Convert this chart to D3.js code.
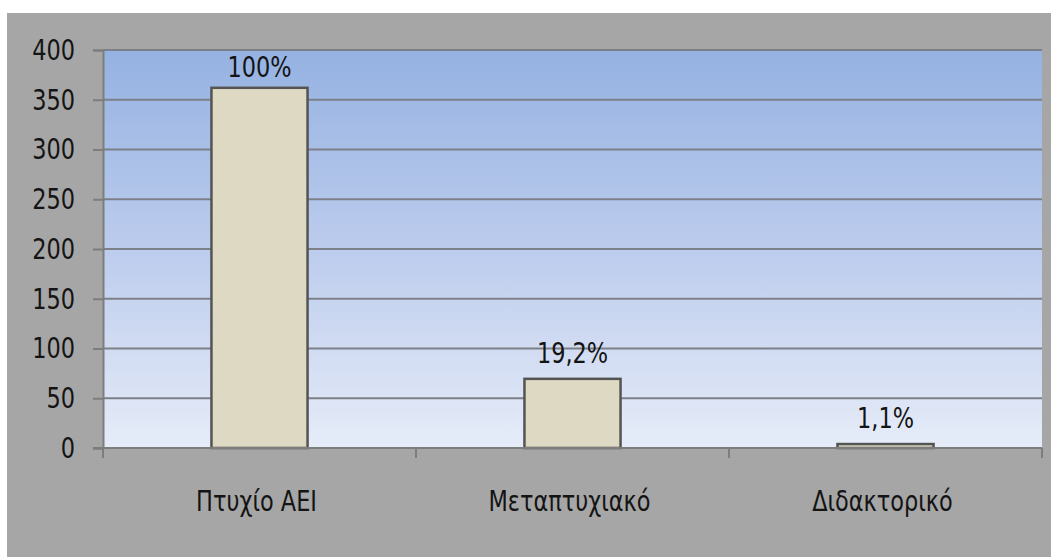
<!DOCTYPE html>
<html>
<head>
<meta charset="utf-8">
<script src="https://cdn.jsdelivr.net/npm/d3@7"></script>
<style>
  html, body { margin: 0; padding: 0; background: #ffffff; }
  svg { display: block; }
  text { font-family: "DejaVu Sans Condensed", "Liberation Sans", sans-serif; fill: #141414; }
</style>
</head>
<body>
<svg id="chart" width="1051" height="558"></svg>
<script>
// Degree level categories and their share relative to the first level
const categories = ["Πτυχίο ΑΕΙ", "Μεταπτυχιακό", "Διδακτορικό"];
const percents = [100, 19.2, 1.1];
const percentLabels = ["100%", "19,2%", "1,1%"];
const baseCount = 362;           // count that corresponds to 100%
const yTicks = [0, 50, 100, 150, 200, 250, 300, 350, 400];

const svg = d3.select("#chart");
const W = 1051, H = 558;
const plot = { left: 103, right: 1042, top: 50, bottom: 448 };
const FONT = 29;
const SX = 0.86;                 // narrow the glyphs horizontally

// Outer chart area
svg.append("rect")
  .attr("x", 7).attr("y", 13)
  .attr("width", W - 7).attr("height", H - 14)
  .attr("fill", "#a6a6a6");

// Plot area gradient
const defs = svg.append("defs");
const grad = defs.append("linearGradient")
  .attr("id", "plotBg").attr("x1", 0).attr("y1", 0).attr("x2", 0).attr("y2", 1);
grad.append("stop").attr("offset", "0%").attr("stop-color", "#95b2e2");
grad.append("stop").attr("offset", "50%").attr("stop-color", "#bccced");
grad.append("stop").attr("offset", "100%").attr("stop-color", "#e6ecf8");

svg.append("rect")
  .attr("x", plot.left).attr("y", plot.top)
  .attr("width", plot.right - plot.left).attr("height", plot.bottom - plot.top)
  .attr("fill", "url(#plotBg)");

const x = d3.scaleBand()
  .domain(categories)
  .range([plot.left, plot.right])
  .paddingInner(0.693)
  .paddingOuter(0.3465);

const y = d3.scaleLinear()
  .domain([0, 400])
  .range([plot.bottom, plot.top]);

// Horizontal gridlines
svg.append("g")
  .selectAll("line")
  .data(yTicks.filter(d => d > 0))
  .join("line")
  .attr("x1", plot.left).attr("x2", plot.right)
  .attr("y1", d => y(d)).attr("y2", d => y(d))
  .attr("stroke", "#7d8088").attr("stroke-width", 2);

// Y axis
const yAxis = svg.append("g")
  .attr("transform", `translate(${plot.left},0)`)
  .call(d3.axisLeft(y).tickValues(yTicks).tickSize(10).tickPadding(18).tickFormat(d3.format("d")));
yAxis.select(".domain").attr("stroke", "#7d7d7d").attr("stroke-width", 2);
yAxis.selectAll(".tick line").attr("stroke", "#7d7d7d").attr("stroke-width", 2);
yAxis.selectAll(".tick text")
  .attr("font-size", FONT)
  .attr("fill", "#141414")
  .attr("font-family", null)
  .attr("x", -28 / SX)
  .attr("transform", `scale(${SX},1)`);

// Bars
const barValue = p => baseCount * p / 100;
svg.append("g")
  .selectAll("rect")
  .data(categories)
  .join("rect")
  .attr("x", d => x(d))
  .attr("width", x.bandwidth())
  .attr("y", (d, i) => y(barValue(percents[i])))
  .attr("height", (d, i) => y(0) - y(barValue(percents[i])))
  .attr("fill", "#ddd9c3")
  .attr("stroke", "#545454")
  .attr("stroke-width", 2.5);

// X axis line and category separators
const xg = svg.append("g");
xg.append("line")
  .attr("x1", plot.left - 10).attr("x2", plot.right)
  .attr("y1", y(0)).attr("y2", y(0))
  .attr("stroke", "#7d7d7d").attr("stroke-width", 2);
const bounds = d3.range(categories.length + 1).map(i => plot.left + i * x.step());
xg.selectAll("line.sep")
  .data(bounds)
  .join("line")
  .attr("class", "sep")
  .attr("x1", d => d).attr("x2", d => d)
  .attr("y1", y(0)).attr("y2", y(0) + 10)
  .attr("stroke", "#7d7d7d").attr("stroke-width", 2);

// Category labels
xg.selectAll("text")
  .data(categories)
  .join("text")
  .attr("transform", d => `translate(${x(d) + x.bandwidth() / 2 - 3},511) scale(${SX},1)`)
  .attr("text-anchor", "middle")
  .attr("font-size", FONT)
  .text(d => d);

// Value labels above bars, kept inside the plot area
svg.append("g")
  .selectAll("text")
  .data(categories)
  .join("text")
  .attr("transform", (d, i) => {
    const ty = Math.max(y(barValue(percents[i])) - 16, plot.top + 27);
    return `translate(${x(d) + x.bandwidth() / 2},${ty}) scale(${SX},1)`;
  })
  .attr("text-anchor", "middle")
  .attr("font-size", FONT)
  .text((d, i) => percentLabels[i]);
</script>
</body>
</html>
